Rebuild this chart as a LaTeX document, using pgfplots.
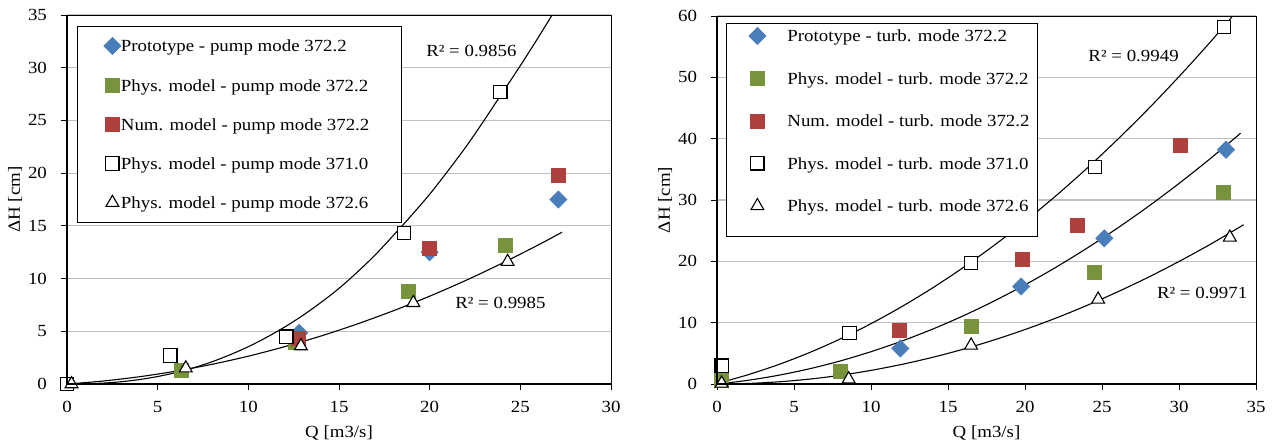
\documentclass[border=0pt]{standalone}
\usepackage{fontspec}
\setmainfont{Liberation Serif}[FakeStretch=1.11]
\usepackage{pgfplots}
\pgfplotsset{compat=1.18}
\definecolor{cblue}{RGB}{74,126,187}
\definecolor{cgreen}{RGB}{119,147,60}
\definecolor{cred}{RGB}{176,64,62}
\definecolor{cgrid}{RGB}{192,192,192}
\pgfplotsset{
  common/.style={
    scale only axis, anchor=south west,
    axis line style={line width=0.5pt},
    ymajorgrids, grid style={cgrid, line width=0.6pt},
    tick align=outside, major tick length=3pt,
    tick style={black, line width=0.5pt},
    tick pos=left,
    /pgf/number format/assume math mode=true,
    ticklabel style={font=\fontsize{8.5}{10}\selectfont},
    yticklabel style={xshift=-4pt},
    xticklabel style={yshift=-2.5pt},
    label style={font=\fontsize{8.5}{10}\selectfont},
    legend style={draw=none, fill=none, inner xsep=0pt,
      column sep=0pt, font=\fontsize{8.5}{10.2}\selectfont,
      cells={anchor=base west}, nodes={inner sep=0pt, text height=7pt, text depth=3pt}},
  },
  tl/.style={black, line width=0.55pt, smooth, no marks, forget plot},
  pdia/.style={only marks, color=cblue, mark=square*, mark size=3pt, mark options={rotate=45, fill=cblue, draw=cblue}},
  pgre/.style={only marks, color=cgreen, mark=square*, mark size=3.5pt, mark options={fill=cgreen, draw=cgreen}},
  pred/.style={only marks, color=cred, mark=square*, mark size=3.5pt, mark options={fill=cred, draw=cred}},
  psq/.style={only marks, color=black, mark=square*, mark size=3.3pt, mark options={fill=white, draw=black, line width=0.55pt}},
  ptri/.style={only marks, color=black, mark=triangle*, mark size=3.7pt, mark options={fill=white, draw=black, line width=0.55pt}},
}
\begin{document}
\fontsize{8.5}{10.2}\selectfont
\begin{tikzpicture}
\useasboundingbox (0,0) rectangle (636.5pt,223.5pt);
% ---------------- left: pump mode
\begin{axis}[common, name=L, at={(33.5pt,31.5pt)}, width=272pt, height=184.5pt,
  xmin=0, xmax=30, ymin=0, ymax=35,
  xtick={0,5,...,30}, ytick={0,5,...,35},
  xlabel={Q [m3/s]}, ylabel={ΔH [cm]},
  xlabel style={at={(axis description cs:0.5,-0.1328)}, anchor=center},
  ylabel style={at={(axis description cs:-0.0956,0.5)}, anchor=center},
  legend style={at={(0.0184,0.9702)}, anchor=north west, inner ysep=5.5pt, row sep=9.6pt},
  legend image code/.code={\path[draw=none,fill=none] (0pt,0pt) -- (21.5pt,0pt); \draw[#1, only marks] plot coordinates {(17.5pt,3pt)};},
]
\addplot[pdia] coordinates {(12.8,4.85) (20.0,12.5) (27.1,17.5)};
\addlegendentry{\makebox[140.5pt][l]{Prototype - pump mode 372.2}}
\addplot[pgre] coordinates {(6.3,1.3) (12.6,3.9) (18.85,8.8) (24.2,13.1)};
\addlegendentry{\makebox[140.5pt][l]{Phys. model - pump mode 372.2}}
\addplot[pred] coordinates {(12.75,4.3) (20.0,12.85) (27.1,19.8)};
\addlegendentry{\makebox[140.5pt][l]{Num. model - pump mode 372.2}}
\addplot[psq] coordinates {(0,0) (5.7,2.7) (12.1,4.5) (18.6,14.3) (23.9,27.7)};
\addlegendentry{\makebox[140.5pt][l]{Phys. model - pump mode 371.0}}
\addplot[ptri] coordinates {(0.25,0) (6.55,1.5) (12.9,3.6) (19.1,7.7) (24.3,11.6)};
\addlegendentry{\makebox[140.5pt][l]{Phys. model - pump mode 372.6}}
\addplot[tl] coordinates {(0.3,0.001) (1,0.017) (2,0.085) (3,0.218) (4,0.424) (5,0.71) (6,1.084) (7,1.55) (8,2.11) (9,2.78) (10,3.54) (11,4.42) (12,5.40) (13,6.50) (14,7.73) (15,9.07) (16,10.6) (17,12.25) (18,14.1) (19,16.0) (20,18.0) (21,20.2) (22,22.5) (23,25.0) (24,27.6) (25,30.2) (26,32.9) (27,35.7)};
\addplot[tl] coordinates {(0.3,0.035) (2,0.285) (4,0.69) (6,1.22) (8,1.87) (10,2.64) (12,3.54) (14,4.55) (16,5.69) (18,6.95) (20,8.33) (22,9.83) (24,11.46) (26,13.20) (27.3,14.40)};
\draw[black, line width=0.5pt, fill=white] (rel axis cs:0.0184,0.439) rectangle (rel axis cs:0.614,0.9702);
\node[anchor=center] at (axis cs:22.3,31.6) {R² = 0.9856};
\node[anchor=center] at (axis cs:23.9,7.7) {R² = 0.9985};
\end{axis}
\draw[line width=1pt] (L.north west) -- (L.south west) -- (L.south east);
% ---------------- right: turbine mode
\begin{axis}[common, name=R, at={(358.5pt,31.5pt)}, width=269.5pt, height=184pt,
  xmin=0, xmax=35, ymin=0, ymax=60,
  xtick={0,5,...,35}, ytick={0,10,...,60},
  xlabel={Q [m3/s]}, ylabel={ΔH [cm]},
  xlabel style={at={(axis description cs:0.5,-0.1332)}, anchor=center},
  ylabel style={at={(axis description cs:-0.0965,0.5)}, anchor=center},
  legend style={at={(0.0167,0.9796)}, anchor=north west, inner ysep=1.75pt, row sep=11.25pt},
  legend image code/.code={\path[draw=none,fill=none] (0pt,0pt) -- (30.5pt,0pt); \draw[#1, only marks] plot coordinates {(15.5pt,3pt)};},
]
\addplot[pdia] coordinates {(11.9,5.8) (19.75,15.9) (25.15,23.75) (33.05,38.2)};
\addlegendentry{\makebox[125pt][l]{Prototype - turb. mode 372.2}}
\addplot[pgre] coordinates {(0.3,0.65) (8.0,2.0) (16.5,9.35) (24.5,18.2) (32.9,31.2)};
\addlegendentry{\makebox[125pt][l]{Phys. model - turb. mode 372.2}}
\addplot[pred] coordinates {(11.85,8.8) (19.8,20.3) (23.4,25.9) (30.1,38.9)};
\addlegendentry{\makebox[125pt][l]{Num. model - turb. mode 372.2}}
\addplot[psq] coordinates {(0.3,3.0) (8.6,8.3) (16.5,19.7) (24.55,35.4) (32.9,58.2)};
\addlegendentry{\makebox[125pt][l]{Phys. model - turb. mode 371.0}}
\addplot[ptri] coordinates {(0.3,0.1) (8.55,0.8) (16.5,6.3) (24.75,13.8) (33.3,23.9)};
\addlegendentry{\makebox[125pt][l]{Phys. model - turb. mode 372.6}}
\addplot[tl] coordinates {(0.3,0.30) (2,1.50) (4,3.17) (6,5.12) (8,7.34) (10,9.84) (12,12.62) (14,15.67) (16,19.01) (18,22.62) (20,26.51) (22,30.67) (24,35.12) (26,39.85) (28,44.84) (30,50.12) (32,55.67) (34,61.5)};
\addplot[tl] coordinates {(0.3,0.08) (2,0.60) (4,1.43) (6,2.48) (8,3.76) (10,5.27) (12,7.00) (14,8.95) (16,11.13) (18,13.54) (20,16.17) (22,19.02) (24,22.11) (26,25.41) (28,28.94) (30,32.70) (32,36.69) (34,40.89)};
\addplot[tl] coordinates {(0.3,0.002) (2,0.089) (4,0.355) (6,0.80) (8,1.42) (10,2.22) (12,3.20) (14,4.35) (16,5.68) (18,7.19) (20,8.88) (22,10.74) (24,12.79) (26,15.01) (28,17.40) (30,19.98) (32,22.73) (34.2,25.97)};
\draw[black, line width=0.5pt, fill=white] (rel axis cs:0.0167,0.4022) rectangle (rel axis cs:0.5937,0.9796);
\node[anchor=center] at (axis cs:27.05,53.5) {R² = 0.9949};
\node[anchor=center] at (axis cs:31.5,14.8) {R² = 0.9971};
\end{axis}
\draw[line width=1pt] (R.north west) -- (R.south west) -- (R.south east);
\end{tikzpicture}
\end{document}
